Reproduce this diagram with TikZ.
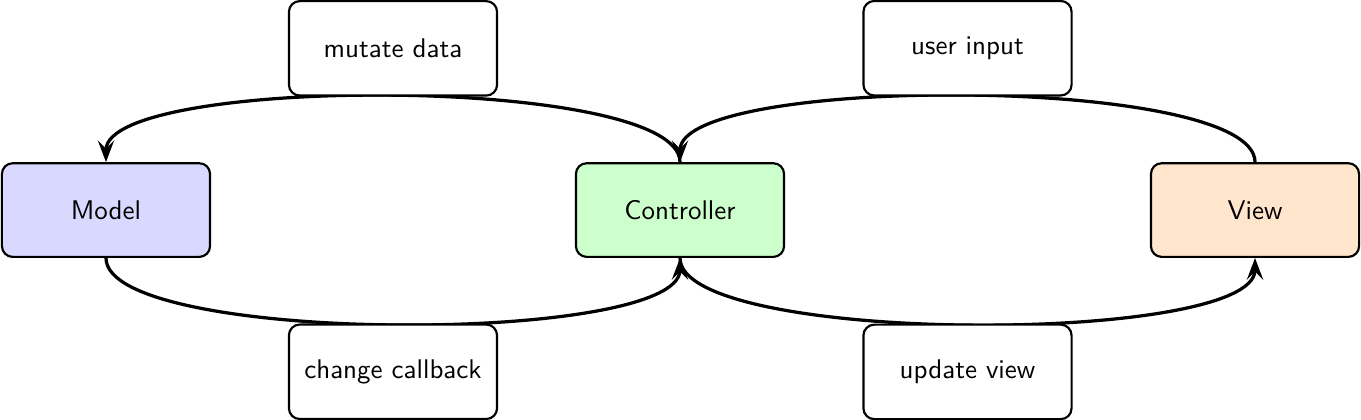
\documentclass[tikz,border=0pt]{standalone}
\usepackage{tikz}
\usetikzlibrary{arrows.meta,calc}

\begin{document}
\begin{tikzpicture}[>={Stealth[length=8pt,width=6pt,inset=3pt]}, font=\sffamily,
  block/.style={draw, thick, rounded corners, minimum width=2.71cm, minimum height=1.22cm},
  lbl/.style={draw, thick, rounded corners, fill=white, minimum width=2.71cm, minimum height=1.23cm},
  flow/.style={very thick, ->, looseness=0.39}]
\useasboundingbox (0,0) rectangle (17.721,5.456);
\node[block, fill=blue!15] (model) at (1.380,2.721) {Model};
\node[block, fill=green!20] (ctrl) at (8.854,2.721) {Controller};
\node[block, fill=orange!20] (view) at (16.341,2.721) {View};
% top
\draw[flow] (ctrl.north) to[out=90,in=90] node[lbl, above] (mutate) {mutate data} (model.north);
\draw[flow] (view.north) to[out=90,in=90] node[lbl, above] (input) {user input} (ctrl.north);
% bottom
\draw[flow] (model.south) to[out=-90,in=-90] node[lbl, below] (callback) {change callback} (ctrl.south);
\draw[flow] (ctrl.south) to[out=-90,in=-90] node[lbl, below] (update) {update view} (view.south);
\end{tikzpicture}
\end{document}
